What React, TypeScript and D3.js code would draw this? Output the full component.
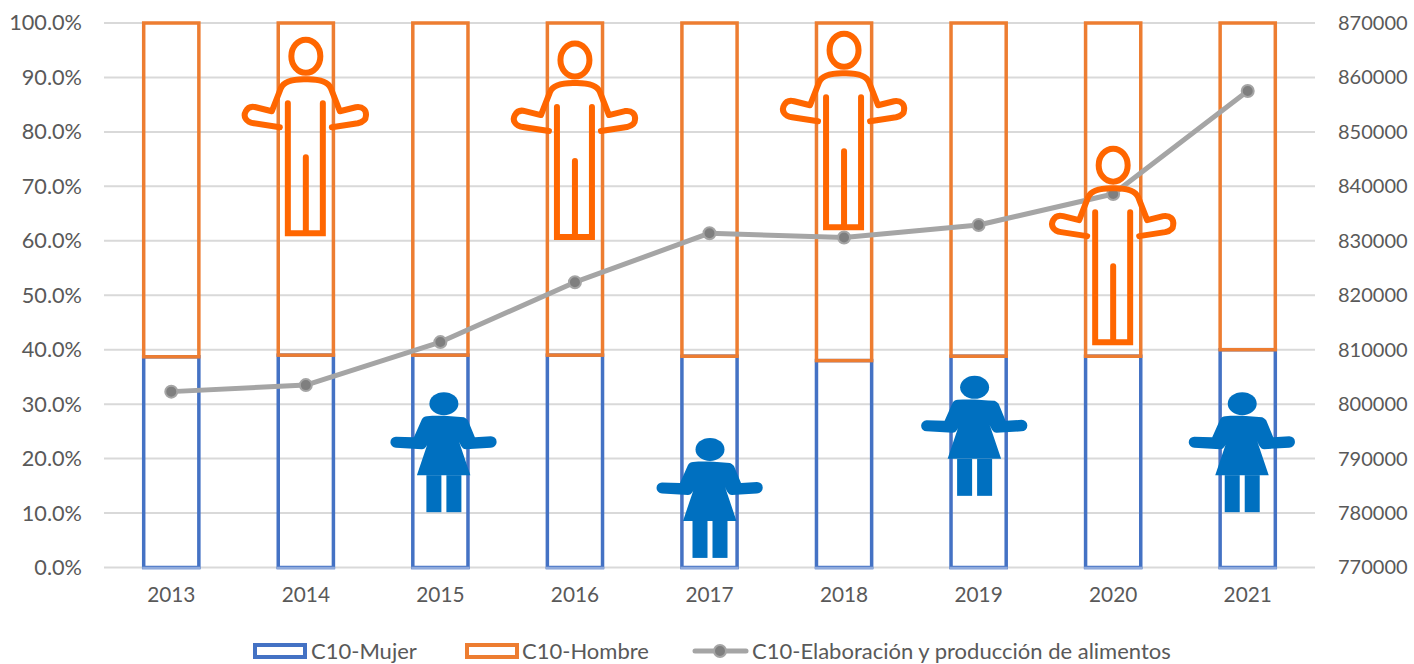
import React, { useEffect, useRef } from 'react';
import * as d3 from 'd3';

const years = ['2013', '2014', '2015', '2016', '2017', '2018', '2019', '2020', '2021'];
const mujerShare = [38.7, 39.0, 39.0, 39.0, 38.8, 38.0, 38.8, 38.8, 40.0];
const hombreShare = [61.3, 61.0, 61.0, 61.0, 61.2, 62.0, 61.2, 61.2, 60.0];
const produccion = [802300, 803500, 811400, 822400, 831400, 830600, 832900, 838600, 857500];

// icon year + the % level where the head starts
const manIcons: [string, number][] = [['2014', 97.2], ['2016', 96.5], ['2018', 98.3], ['2020', 77.2]];
const womanIcons: [string, number][] = [['2015', 32.2], ['2017', 23.8], ['2019', 35.2], ['2021', 32.2]];

const legendLabels = ['C10-Mujer', 'C10-Hombre', 'C10-Elaboración y producción de alimentos'];

const BLUE = '#4472C4';
const ORANGE = '#ED7D31';
const GREY = '#A5A5A5';
const ICON_ORANGE = '#FF6600';
const ICON_BLUE = '#0070C0';
const TEXT = '#595959';
const FONT = 'Lato, "Open Sans", sans-serif';

const MAN_OUTLINE = 'M-26 89 L-52 85 C-60 84 -63 78 -60 73 C-58 69 -54 68 -50 69 L-34 73 L-25 50 C-22 43 -14 41 -2 41 L2 41 C14 41 22 43 25 50 L34 73 L50 69 C57 68 61 72 60 78 C60 82 56 84 52 85 L26 89';
const MAN_LEGS = 'M-18 65 V195 H17 V65 M0 119 V195';
const WOMAN_BODY = 'M-22 27 C-21 25 -19 24 -17 24 C-5 23 8 24 20 25 C22 26 23 27 24 28 L31 45 L47 44 A5.75 5.75 0 0 1 47 55.5 L22 57 C18 57 16 52 14 46 L26.5 83 L-27 83 L-14.5 46 C-16 52 -18 57 -22 57 L-48 55.5 A5.5 5.5 0 0 1 -48 44.5 L-30 45 Z';
// the icons do not sit exactly on the bar centres in the source
const womanShift: Record<string, number> = { '2015': 3.5, '2017': 0.5, '2019': -4, '2021': -5.5 };

export default function App() {
  const svgRef = useRef<SVGSVGElement>(null);

  useEffect(() => {
    if (!svgRef.current) return;
    const width = 1414;
    const height = 664;
    const margin = { top: 23, right: 99, bottom: 96.5, left: 104 };

    const svg = d3.select(svgRef.current);
    svg.selectAll('*').remove();

    const x = d3.scaleBand().domain(years).range([margin.left, width - margin.right]).paddingInner(0.59).paddingOuter(0.295);
    const y = d3.scaleLinear().domain([0, 100]).range([height - margin.bottom, margin.top]);
    const yRight = d3.scaleLinear().domain([770000, 870000]).range([height - margin.bottom, margin.top]);
    const cx = (year: string) => (x(year) as number) + x.bandwidth() / 2;

    // grid
    svg.append('g')
      .selectAll('line')
      .data(y.ticks(10))
      .join('line')
      .attr('x1', margin.left).attr('x2', width - margin.right)
      .attr('y1', d => y(d)).attr('y2', d => y(d))
      .attr('stroke', '#D9D9D9').attr('stroke-width', 2);

    // axes
    const leftAxis = svg.append('g').attr('transform', `translate(${margin.left},0)`)
      .call(d3.axisLeft(y).ticks(10).tickSize(0).tickPadding(22).tickFormat(d => `${(+d).toFixed(1)}%`));
    const rightAxis = svg.append('g').attr('transform', `translate(${width - margin.right},0)`)
      .call(d3.axisRight(yRight).ticks(10).tickSize(0).tickPadding(23).tickFormat(d => String(d)));
    const bottomAxis = svg.append('g').attr('transform', `translate(0,${height - margin.bottom})`)
      .call(d3.axisBottom(x).tickSize(0).tickPadding(20));
    [leftAxis, rightAxis, bottomAxis].forEach(a => {
      a.select('.domain').remove();
      a.selectAll('text').attr('fill', TEXT).attr('font-family', FONT);
    });
    leftAxis.selectAll('text').attr('font-size', 21.7);
    rightAxis.selectAll('text').attr('font-size', 20);
    bottomAxis.selectAll('text').attr('font-size', 20.8);

    // hollow stacked bars
    svg.append('g').selectAll('rect')
      .data(years)
      .join('rect')
      .attr('x', d => x(d) as number)
      .attr('width', x.bandwidth())
      .attr('y', (_, i) => y(mujerShare[i]))
      .attr('height', (_, i) => y(0) - y(mujerShare[i]))
      .attr('fill', 'none').attr('stroke', BLUE).attr('stroke-width', 3.5);
    // bottom edge of the blue bars reads lighter
    svg.append('g').selectAll('line')
      .data(years)
      .join('line')
      .attr('x1', d => (x(d) as number) - 1.5)
      .attr('x2', d => (x(d) as number) + x.bandwidth() + 1.5)
      .attr('y1', y(0) + 0.5).attr('y2', y(0) + 0.5)
      .attr('stroke', '#8FAADC').attr('stroke-width', 2.5);
    svg.append('g').selectAll('rect')
      .data(years)
      .join('rect')
      .attr('x', d => x(d) as number)
      .attr('width', x.bandwidth())
      .attr('y', (_, i) => y(mujerShare[i] + hombreShare[i]))
      .attr('height', (_, i) => y(mujerShare[i]) - y(mujerShare[i] + hombreShare[i]))
      .attr('fill', 'none').attr('stroke', ORANGE).attr('stroke-width', 3.5);

    // line
    const line = d3.line<number>().x((_, i) => cx(years[i])).y(d => yRight(d));
    svg.append('path').datum(produccion)
      .attr('d', line)
      .attr('fill', 'none').attr('stroke', GREY).attr('stroke-width', 5).attr('stroke-linejoin', 'round').attr('stroke-linecap', 'round');
    svg.append('g').selectAll('circle')
      .data(produccion)
      .join('circle')
      .attr('cx', (_, i) => cx(years[i]))
      .attr('cy', d => yRight(d))
      .attr('r', 6)
      .attr('fill', '#7F7F7F').attr('stroke', GREY).attr('stroke-width', 2);

    // person icons
    manIcons.forEach(([year, level]) => {
      const g = svg.append('g').attr('transform', `translate(${cx(year)},${y(level)})`)
        .attr('fill', 'none').attr('stroke', ICON_ORANGE).attr('stroke-width', 6).attr('stroke-linecap', 'round');
      g.append('ellipse').attr('cx', 0).attr('cy', 18).attr('rx', 14.5).attr('ry', 16.5);
      g.append('path').attr('d', MAN_OUTLINE).attr('stroke-linejoin', 'round');
      g.append('path').attr('d', MAN_LEGS).attr('stroke-linejoin', 'miter');
    });
    womanIcons.forEach(([year, level]) => {
      const g = svg.append('g').attr('transform', `translate(${cx(year) + womanShift[year]},${y(level)})`).attr('fill', ICON_BLUE);
      g.append('ellipse').attr('cx', 0).attr('cy', 11.5).attr('rx', 14.5).attr('ry', 11.5);
      g.append('path').attr('d', WOMAN_BODY);
      g.append('rect').attr('x', -17.5).attr('y', 83).attr('width', 15).attr('height', 37);
      g.append('rect').attr('x', 2.5).attr('y', 83).attr('width', 15).attr('height', 37);
    });

    // legend
    const legend = svg.append('g');
    const legendY = 651;
    const addText = (tx: number, label: string) =>
      legend.append('text').attr('x', tx).attr('y', legendY).attr('dy', '0.35em')
        .attr('fill', TEXT).attr('font-family', FONT).attr('font-size', 22).text(label);
    [[255, BLUE, 311, legendLabels[0]], [467, ORANGE, 522, legendLabels[1]]].forEach(([rx, col, tx, label]) => {
      legend.append('rect').attr('x', rx as number).attr('y', legendY - 6).attr('width', 50).attr('height', 12)
        .attr('fill', 'none').attr('stroke', col as string).attr('stroke-width', 4);
      addText(tx as number, label as string);
    });
    legend.append('line').attr('x1', 695).attr('x2', 746).attr('y1', legendY).attr('y2', legendY)
      .attr('stroke', GREY).attr('stroke-width', 5).attr('stroke-linecap', 'round');
    legend.append('circle').attr('cx', 720).attr('cy', legendY).attr('r', 6)
      .attr('fill', '#7F7F7F').attr('stroke', GREY).attr('stroke-width', 2);
    addText(752, legendLabels[2]);
  }, []);

  return <svg ref={svgRef} width={1414} height={664} style={{ position: 'absolute', left: 0, top: 0, background: '#fff' }} />;
}
